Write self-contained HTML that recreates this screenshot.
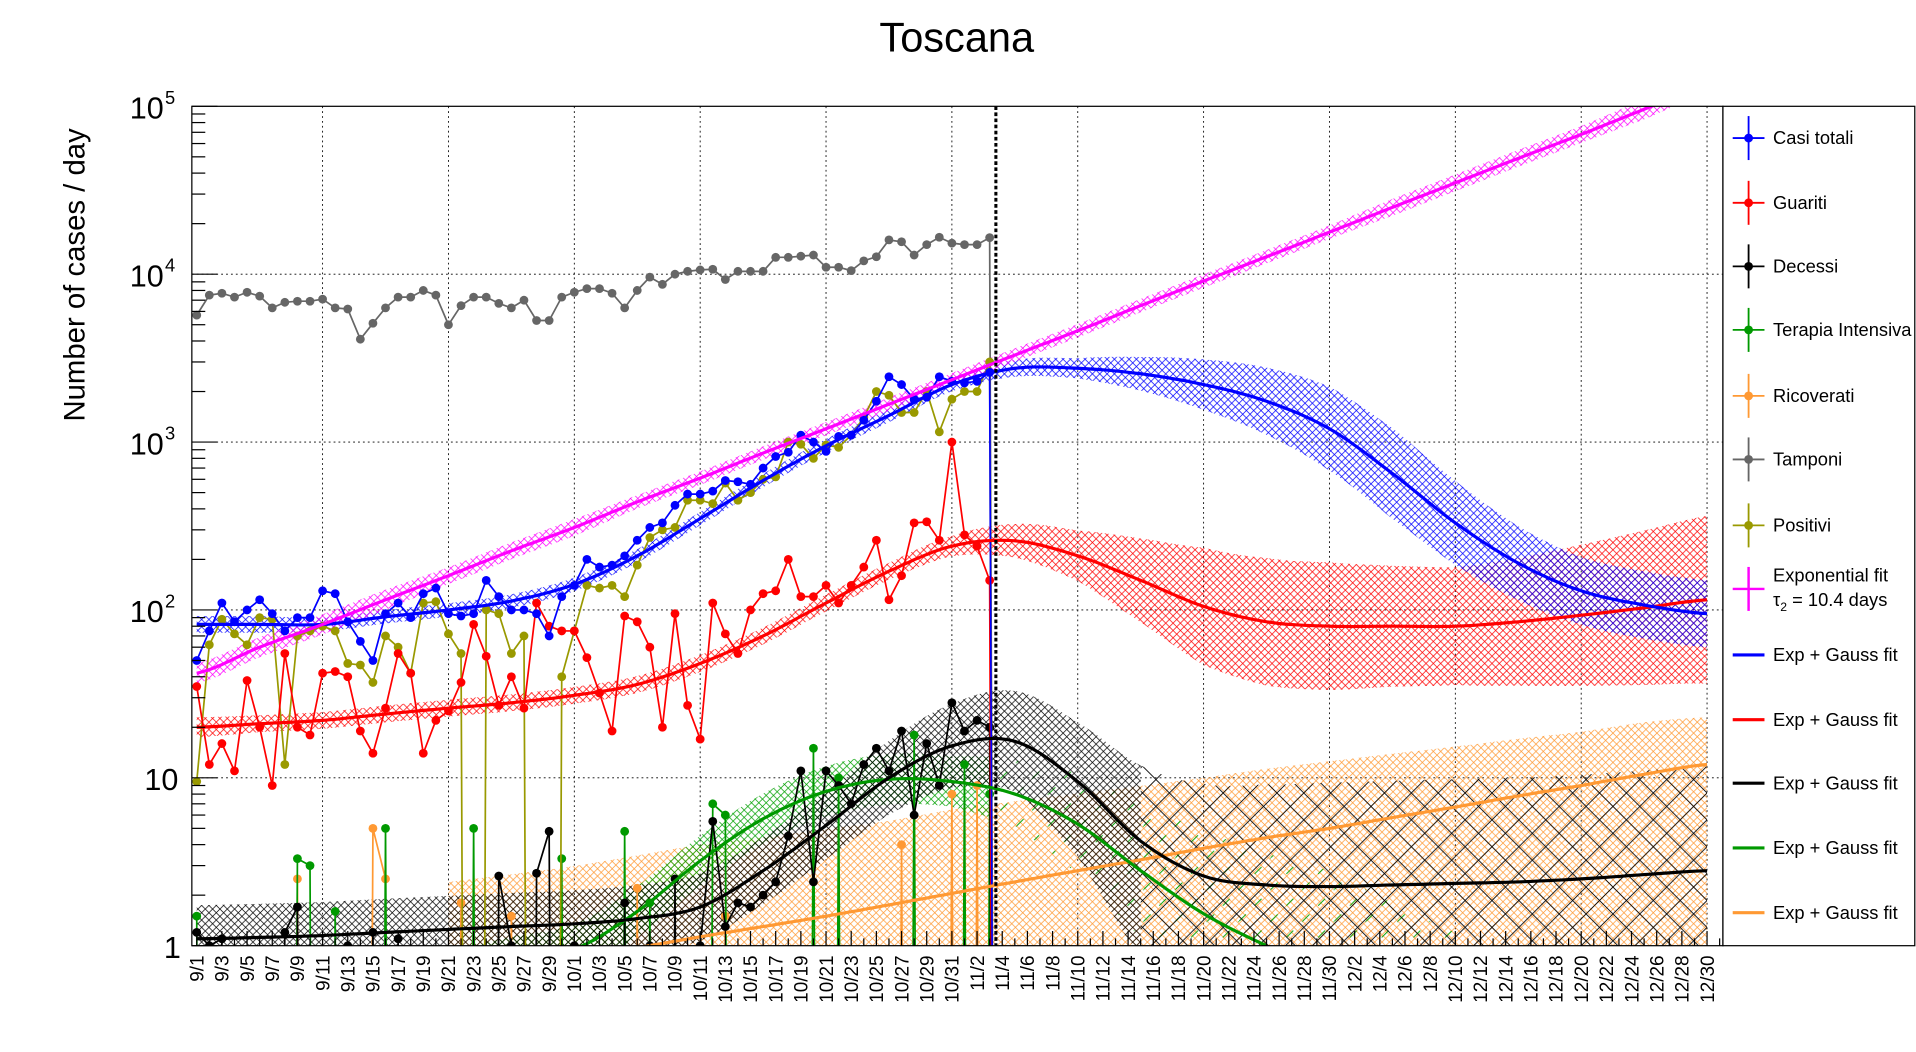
<!DOCTYPE html>
<html><head><meta charset="utf-8"><style>
html,body{margin:0;padding:0;background:#fff;overflow:hidden;width:1916px;height:1052px;}
svg{display:block;}
text{font-family:"Liberation Sans",Arial,sans-serif;}
</style></head><body>
<svg id="chart" width="1916" height="1052" viewBox="0 0 1568 861" preserveAspectRatio="none" xmlns="http://www.w3.org/2000/svg">
<defs>
<clipPath id="plotClip"><rect x="157" y="87" width="1253" height="687"/></clipPath>
<pattern id="pM" width="6" height="6" patternUnits="userSpaceOnUse"><path d="M0,0L6,6M6,0L0,6" stroke="#ff00ff" stroke-width="0.6"/></pattern>
<pattern id="pB" width="6" height="6" patternUnits="userSpaceOnUse"><path d="M0,0L6,6M6,0L0,6" stroke="#0000ff" stroke-width="0.6"/></pattern>
<pattern id="pR" width="6" height="6" patternUnits="userSpaceOnUse"><path d="M0,0L6,6M6,0L0,6" stroke="#ff0000" stroke-width="0.6"/></pattern>
<pattern id="pK" width="6" height="6" patternUnits="userSpaceOnUse"><path d="M0,0L6,6M6,0L0,6" stroke="#000" stroke-width="0.6"/></pattern>
<pattern id="pKs" width="22" height="22" patternUnits="userSpaceOnUse"><path d="M0,0L22,22M22,0L0,22" stroke="#000" stroke-width="0.7"/></pattern>
<pattern id="pG" width="6" height="6" patternUnits="userSpaceOnUse"><path d="M0,0L6,6M6,0L0,6" stroke="#00a000" stroke-width="0.6"/></pattern>
<pattern id="pGs" width="26" height="26" patternUnits="userSpaceOnUse"><path d="M0,26L26,0" stroke="#00a000" stroke-width="0.8" stroke-dasharray="8 10"/></pattern>
<pattern id="pO" width="6" height="6" patternUnits="userSpaceOnUse"><path d="M0,0L6,6M6,0L0,6" stroke="#ff9933" stroke-width="0.6"/></pattern>
</defs>
<text x="783" y="42" font-size="34" text-anchor="middle">Toscana</text>
<text x="0" y="0" font-size="24" text-anchor="middle" transform="translate(69,225) rotate(-90)">Number of cases / day</text>
<g id="grid"></g>
<g id="bands" clip-path="url(#plotClip)"></g>
<g id="series" clip-path="url(#plotClip)"></g>
<g id="fits" clip-path="url(#plotClip)"></g>
<line x1="815" y1="87" x2="815" y2="774" stroke="#000" stroke-width="2.5" stroke-dasharray="3 2"/>
<rect x="157" y="87" width="1253" height="687" fill="none" stroke="#000" stroke-width="1"/>
<g id="axes"></g>
<g id="legend"></g>
</svg>
<script>
// ---- data (day index 0 = 9/1) ----
const casiTotali = [50,75,110,85,100,115,95,75,90,90,130,125,85,65,50,95,110,90,125,135,95,92,95,150,120,100,100,95,70,120,140,200,180,185,210,260,310,330,420,490,490,510,590,580,560,700,820,870,1100,1000,880,1080,1100,1350,1750,2450,2200,1800,1850,2450,2300,2250,2300,2600,0];
const positivi = [9.5,62,88,72,62,90,88,12,70,75,80,75,48,47,37,70,60,42,110,112,72,55,0,100,95,55,70,0,0,40,75,140,135,140,120,185,270,300,310,450,450,430,570,450,500,600,620,1000,970,800,960,930,1100,1400,2000,1900,1500,1500,2000,1150,1800,2000,2000,3000,0];
const tamponi = [5700,7500,7700,7300,7800,7400,6300,6800,6900,6900,7100,6300,6200,4100,5100,6300,7300,7300,8000,7500,5000,6500,7300,7300,6700,6300,7000,5300,5300,7300,7800,8200,8200,7700,6300,8000,9600,8700,10000,10400,10600,10700,9300,10400,10400,10400,12600,12600,12800,13000,11000,11000,10500,12000,12700,16000,15600,13000,15000,16600,15300,15000,15000,16500,0];
const guariti = [35,12,16,11,38,20,9,55,20,18,42,43,40,19,14,26,55,42,14,22,25,37,82,53,27,40,26,110,80,75,75,52,32,19,92,85,60,20,95,27,17,110,72,55,100,125,130,200,120,120,140,110,140,180,260,115,160,330,335,260,1000,280,240,150,0];
const decessi = [1.2,1,1.1,0,0,0,0,1.2,1.7,0,0,0,1,0,1.2,0,1.1,0,0,0,0,0,0,0,2.6,1,0,2.7,4.8,0,1,0,0,0,1.8,0,1,0,2.5,0,1,5.5,1.3,1.8,1.7,2,2.4,4.5,11,2.4,11,9,7,12,15,11,19,6,16,9,28,19,22,20,0];
const terapia = [1.5,0,0,0,0,0,0,0,3.3,3,0,1.6,0,0,0,5,0,0,0,0,0,0,5,0,0,0,0,0,0,3.3,0,0,0,0,4.8,0,1.8,0,0,0,0,7,6,0,0,0,0,0,0,15,0,10,0,0,0,0,0,18,0,0,0,12,0,8,0];
const ricoverati = [0,0,0,0,0,0,0,0,2.5,0,0,0,0,0,5,2.5,0,0,0,0,0,1.8,0,0,0,1.5,0,0,0,0,0,0,0,0,0,2.2,0,0,0,0,0,0,1.5,0,0,0,0,0,0,0,0,0,0,0,0,0,4,0,0,0,8,0,9,0,0];

// ---- fit curves, sampled every 5 days (value) and band half-widths (decades, up / down) ----
const fitDays = [0,5,10,15,20,25,30,35,40,45,50,55,60,65,70,75,80,85,90,95,100,105,110,115,120];
const expFit   = [42,60,82,115,160,225,310,440,610,860,1200,1680,2350,3300,4600,6500,9100,12700,17800,25000,35000,49000,68000,96000,134000];
const expErr   = [0.06,0.06,0.06,0.06,0.05,0.05,0.05,0.04,0.04,0.04,0.04,0.04,0.04,0.04,0.04,0.04,0.04,0.04,0.04,0.05,0.05,0.05,0.05,0.06,0.06];
const blueFit  = [82,82,82,91,100,113,142,210,350,590,950,1440,2200,2750,2750,2550,2200,1750,1200,650,330,190,130,107,95];
const blueErr  = [0.05,0.05,0.04,0.04,0.04,0.04,0.04,0.04,0.04,0.04,0.04,0.04,0.04,0.05,0.06,0.1,0.15,0.2,0.25,0.27,0.25,0.22,0.2,0.2,0.2];
const redFit   = [20,21,22,24,26,28,31,36,48,70,110,170,240,258,210,150,105,85,80,80,80,85,93,103,115];
const redErr   = [0.06,0.05,0.05,0.05,0.05,0.05,0.05,0.05,0.05,0.05,0.05,0.05,0.06,0.1,0.15,0.25,0.35,0.38,0.38,0.36,0.35,0.38,0.42,0.46,0.5];
const blackFit = [1.1,1.12,1.15,1.2,1.25,1.3,1.35,1.45,1.7,2.8,5.2,10,15.5,16.5,9.5,4.2,2.6,2.3,2.25,2.3,2.35,2.4,2.5,2.65,2.8];
const blackErr = [0.2,0.2,0.2,0.2,0.2,0.2,0.2,0.2,0.2,0.2,0.2,0.22,0.25,0.3,0.35,0.45,0.55,0.6,0.62,0.62,0.62,0.62,0.62,0.62,0.62];
const blackErrLo = [0.2,0.2,0.2,0.2,0.2,0.2,0.2,0.2,0.2,0.2,0.2,0.22,0.25,0.3,0.45,0.7,1.2,1.2,1.2,1.2,1.2,1.2,1.2,1.2,1.2];
const greenFit = [0.2,0.3,0.4,0.55,0.65,0.8,0.95,1.6,3.2,5.7,8.3,9.8,9.5,8,5.3,2.8,1.55,1.0,0.7,0.45,0.3,0.2,0.13,0.09,0.06];
const greenErr = [0.15,0.15,0.15,0.15,0.15,0.15,0.15,0.15,0.15,0.15,0.15,0.15,0.15,0.2,0.3,0.4,0.5,0.55,0.6,0.6,0.6,0.6,0.6,0.6,0.6];
const orangeFit= [0.3,0.35,0.42,0.5,0.6,0.7,0.82,0.97,1.13,1.3,1.5,1.75,2.05,2.4,2.8,3.25,3.8,4.4,5.0,5.8,6.7,7.8,9,10.5,12];
const orangeErr= [0.6,0.6,0.6,0.6,0.6,0.58,0.56,0.55,0.55,0.53,0.52,0.5,0.5,0.48,0.46,0.44,0.42,0.41,0.4,0.38,0.36,0.34,0.32,0.31,0.28];
const orangeErrLo = [1.5,1.5,1.5,1.5,1.5,1.5,1.5,1.5,1.5,1.5,1.5,1.5,1.5,1.5,1.5,1.5,1.5,1.5,1.5,1.5,1.5,1.5,1.5,1.5,1.5];

const yDecades = [0,1,2,3,4,5];
const NS = "http://www.w3.org/2000/svg";
const X0 = 161, DX = 10.3, YB = 774, YT = 87, DEC = 137.4;
function X(d){ return X0 + d*DX; }
function Y(v){ return v>0 ? YB - Math.log10(v)*DEC : YB + 2000; }
function mk(tag, attrs, parent){ const e=document.createElementNS(NS,tag); for(const k in attrs) e.setAttribute(k,attrs[k]); parent.appendChild(e); return e; }

function interpLog(ds, vs, d){
  const step = ds[1]-ds[0];
  let i = Math.floor((d-ds[0])/step); i = Math.max(0, Math.min(ds.length-2, i));
  const t = (d-ds[i])/step;
  const L = k => Math.log10(vs[Math.max(0,Math.min(vs.length-1,k))]);
  const p0=L(i-1),p1=L(i),p2=L(i+1),p3=L(i+2);
  const t2=t*t,t3=t2*t;
  return 0.5*((2*p1)+(-p0+p2)*t+(2*p0-5*p1+4*p2-p3)*t2+(-p0+3*p1-3*p2+p3)*t3);
}
function interpLin(ds, es, d){
  const step = ds[1]-ds[0];
  let i = Math.floor((d-ds[0])/step); i = Math.max(0, Math.min(ds.length-2, i));
  const t=(d-ds[i])/step; return es[i]*(1-t)+es[i+1]*t;
}
function yLog(l){ return YB - l*DEC; }
function clampY(y){ return Math.max(YT-1, Math.min(YB+1, y)); }

// grid
const grid = document.getElementById('grid');
for(let d=10; d<=120; d+=10){
  const l = mk('line',{x1:X(d),y1:87,x2:X(d),y2:774,stroke:'#000','stroke-width':0.7,'stroke-dasharray':'1.5 2.5'},grid);
  
  
}
yDecades.slice(1,5).forEach(k=>{
  const l = mk('line',{x1:157,y1:YB-k*DEC,x2:1410,y2:YB-k*DEC,stroke:'#000','stroke-width':0.7,'stroke-dasharray':'1.5 2.5'},grid);
  
  
});

// bands
const bands = document.getElementById('bands');
function band(vals, errs, errsLo, d0, d1, fill, name){
  const up=[], lo=[];
  for(let d=d0; d<=d1+1e-9; d+=0.5){
    const c = interpLog(fitDays, vals, d), e = interpLin(fitDays, errs, d), el = interpLin(fitDays, errsLo, d);
    up.push(X(d).toFixed(1)+','+clampY(yLog(c+e)).toFixed(1));
    lo.push(X(d).toFixed(1)+','+clampY(yLog(c-el)).toFixed(1));
  }
  const p = mk('polygon',{points:up.concat(lo.reverse()).join(' '),fill:fill,stroke:'none'},bands);
  
  
}
band(orangeFit, orangeErr, orangeErrLo, 20, 120, 'url(#pO)', 'ricoverati-fit-band');
band(greenFit, greenErr, greenErr, 0, 63, 'url(#pG)', 'terapia-fit-band');
band(greenFit, greenErr, greenErr, 63, 100, 'url(#pGs)', 'terapia-fit-band-extrapolated');
band(blackFit, blackErr, blackErrLo, 0, 75, 'url(#pK)', 'decessi-fit-band');
band(blackFit, blackErr, blackErrLo, 75, 120, 'url(#pKs)', 'decessi-fit-band-extrapolated');
band(redFit, redErr, redErr, 0, 120, 'url(#pR)', 'guariti-fit-band');
band(blueFit, blueErr, blueErr, 0, 120, 'url(#pB)', 'casi-fit-band');
band(expFit, expErr, expErr, 0, 120, 'url(#pM)', 'exponential-fit-band');

// data series (segments clipped at the bottom axis)
const series = document.getElementById('series');
function clipSegments(pts){
  const out=[]; let cur=[];
  for(let i=0;i<pts.length-1;i++){
    let [x1,y1]=pts[i], [x2,y2]=pts[i+1];
    if(y1>YB && y2>YB){ if(cur.length){out.push(cur);cur=[];} continue; }
    if(y1>YB){ const t=(YB-y1)/(y2-y1); x1=x1+(x2-x1)*t; y1=YB; }
    let end=false;
    if(y2>YB){ const t=(YB-y1)/(y2-y1); x2=x1+(x2-x1)*t; y2=YB; end=true; }
    if(!cur.length) cur.push([x1,y1]);
    cur.push([x2,y2]);
    if(end){ out.push(cur); cur=[]; }
  }
  if(cur.length) out.push(cur);
  return out;
}
function drawSeries(vals, color, name){
  const g = mk('g',{},series);
  
  
  const pts = vals.map((v,i)=>[X(i),Y(v)]);
  clipSegments(pts).forEach(seg=>{
    const pl = mk('polyline',{points:seg.map(p=>p[0].toFixed(1)+','+p[1].toFixed(1)).join(' '),fill:'none',stroke:color,'stroke-width':1.4},g);
    
    
  });
  vals.forEach((v,i)=>{
    if(v>0){
      const c = mk('circle',{cx:X(i),cy:Y(v),r:3.6,fill:color},g);
      
      
    }
  });
}
drawSeries(ricoverati,'#ff9933','ricoverati');
drawSeries(terapia,'#009900','terapia-intensiva');
drawSeries(decessi,'#000000','decessi');
drawSeries(tamponi,'#666666','tamponi');
drawSeries(positivi,'#999900','positivi');
drawSeries(guariti,'#ff0000','guariti');
drawSeries(casiTotali,'#0000ff','casi-totali');

// fit lines
const fits = document.getElementById('fits');
function fitLine(vals, d0, d1, color, name, w){
  const pts=[];
  for(let d=d0; d<=d1+1e-9; d+=0.5) pts.push([X(d), yLog(interpLog(fitDays, vals, d))]);
  const kept = pts.filter(p=>p[1]<=YB+2 && p[1]>=YT-2);
  const p = mk('polyline',{points:kept.map(q=>q[0].toFixed(1)+','+q[1].toFixed(1)).join(' '),fill:'none',stroke:color,'stroke-width':w||2.6},fits);
  
  
}
fitLine(orangeFit, 0, 120, '#ff9933', 'ricoverati-fit-line');
fitLine(greenFit, 0, 120, '#009900', 'terapia-fit-line');
fitLine(blackFit, 0, 120, '#000000', 'decessi-fit-line');
fitLine(redFit, 0, 120, '#ff0000', 'guariti-fit-line');
fitLine(blueFit, 0, 120, '#0000ff', 'casi-fit-line');
fitLine(expFit, 0, 120, '#ff00ff', 'exponential-fit-line');

// axes
const axes = document.getElementById('axes');
yDecades.forEach(k=>{
  const y = YB-k*DEC;
  const t = mk('line',{x1:157,y1:y,x2:178,y2:y,stroke:'#000','stroke-width':1},axes);
  
  
  if(k<5){ for(let m=2;m<=9;m++){
    const ym = y - Math.log10(m)*DEC;
    const mt = mk('line',{x1:157,y1:ym,x2:168,y2:ym,stroke:'#000','stroke-width':1},axes);
    
    
  }}
  const lab = mk('text',{x:k===0?148:(k===1?146:134),y:y+10,'font-size':25,'text-anchor':'end'},axes);
  
  
  if(k===0) lab.textContent='1';
  else if(k===1) lab.textContent='10';
  else {
    lab.textContent='10';
    const s = mk('text',{x:135,y:y-2,'font-size':15,'text-anchor':'start'},axes);
    s.textContent=String(k);
    
    
  }
});
const monthLens=[30,31,30,31], monthNums=[9,10,11,12];
function dateLabel(d){ let m=0; while(d>=monthLens[m]){ d-=monthLens[m]; m++; } return monthNums[m]+'/'+(d+1); }
for(let d=0; d<=121; d++){
  const tk = mk('line',{x1:X(d),y1:774,x2:X(d),y2:d%2===0?762:768,stroke:'#000','stroke-width':1},axes);
  
  
}
for(let d=0; d<=120; d+=2){
  const t = mk('text',{x:0,y:0,'font-size':15.5,'text-anchor':'end',transform:`translate(${X(d)+5.5},782) rotate(-90)`},axes);
  t.textContent = dateLabel(d);
  
  
}

// legend
const legend = document.getElementById('legend');
const lb = mk('rect',{x:1410,y:87,width:157,height:687,fill:'#fff',stroke:'#000','stroke-width':1},legend);


const legItems = [
 ['Casi totali','#0000ff','err',113],['Guariti','#ff0000','err',166],['Decessi','#000000','err',218],
 ['Terapia Intensiva','#009900','err',270],['Ricoverati','#ff9933','err',324],['Tamponi','#666666','err',376],
 ['Positivi','#999900','err',430],['Exponential fit','#ff00ff','cross',480],
 ['Exp + Gauss fit','#0000ff','line',536],['Exp + Gauss fit','#ff0000','line',589],['Exp + Gauss fit','#000000','line',641],
 ['Exp + Gauss fit','#009900','line',694],['Exp + Gauss fit','#ff9933','line',747]];
legItems.forEach(it=>{
  const [txt,col,kind,y]=it;
  const g = mk('g',{},legend);
  
  
  if(kind==='err'){
    mk('line',{x1:1418,y1:y,x2:1444,y2:y,stroke:col,'stroke-width':1.5},g);
    mk('line',{x1:1431,y1:y-18,x2:1431,y2:y+18,stroke:col,'stroke-width':1.5},g);
    mk('circle',{cx:1431,cy:y,r:3.6,fill:col},g);
  } else if(kind==='cross'){
    mk('line',{x1:1418,y1:y+2,x2:1444,y2:y+2,stroke:col,'stroke-width':2},g);
    mk('line',{x1:1431,y1:y-16,x2:1431,y2:y+20,stroke:col,'stroke-width':2},g);
  } else {
    mk('line',{x1:1418,y1:y,x2:1444,y2:y,stroke:col,'stroke-width':2.6},g);
  }
  const t = mk('text',{x:1451,y:kind==='cross'?y-4:y+5,'font-size':15},g);
  t.textContent = txt;
  if(kind==='cross'){
    const t2 = mk('text',{x:1451,y:y+16,'font-size':15},g);
    t2.innerHTML = 'τ<tspan font-size="10" dy="4">2</tspan><tspan dy="-4"> = 10.4 days</tspan>';
  }
});
</script>
</body></html>
